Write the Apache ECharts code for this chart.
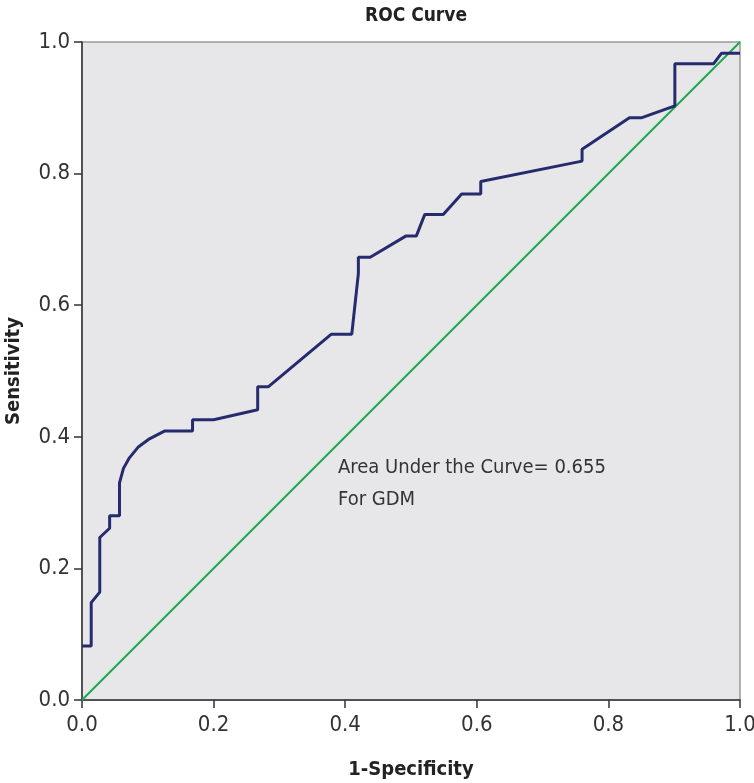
<!DOCTYPE html>
<html>
<head>
<meta charset="utf-8">
<script src="https://cdn.jsdelivr.net/npm/echarts@6/dist/echarts.min.js"></script>
<style>
  html, body { margin: 0; padding: 0; background: #fff; }
  #chart { width: 754px; height: 783px; }
</style>
</head>
<body>
<div id="chart"></div>
<script>
// ROC curve points: [1-specificity, sensitivity]
const rocPoints = [
  [0, 0.082], [0.014, 0.082], [0.014, 0.148], [0.027, 0.164], [0.027, 0.247],
  [0.042, 0.261], [0.042, 0.280], [0.057, 0.280], [0.057, 0.330], [0.063, 0.352],
  [0.072, 0.368], [0.086, 0.385], [0.101, 0.396], [0.126, 0.409], [0.168, 0.409],
  [0.168, 0.426], [0.200, 0.426], [0.267, 0.441], [0.267, 0.476], [0.283, 0.476],
  [0.379, 0.556], [0.410, 0.556], [0.420, 0.648], [0.420, 0.673], [0.438, 0.673],
  [0.492, 0.705], [0.508, 0.705], [0.521, 0.738], [0.549, 0.738], [0.577, 0.769],
  [0.606, 0.769], [0.606, 0.788], [0.760, 0.819], [0.760, 0.837], [0.832, 0.885],
  [0.851, 0.885], [0.901, 0.903], [0.901, 0.967], [0.960, 0.967], [0.972, 0.983],
  [1.0, 0.983]
]
const referenceLine = [[0, 0], [1, 1]]
const titleText = 'ROC Curve'
const xName = '1-Specificity'
const yName = 'Sensitivity'
const noteLines = ['Area Under the Curve= 0.655', 'For GDM']

const chart = echarts.init(document.getElementById('chart'))
const fontFam = 'Liberation Sans Narrow, DejaVu Sans Condensed, sans-serif'
const tickFont = { fontFamily: fontFam, fontSize: 22, color: '#333' }
const nameFont = { fontFamily: fontFam, fontSize: 20, fontWeight: 'bold', color: '#222' }

chart.setOption({
  animation: false,
  title: {
    text: titleText,
    left: 411, top: 2, textAlign: 'center',
    textStyle: { fontFamily: fontFam, fontSize: 19, fontWeight: 'bold', color: '#222' }
  },
  grid: {
    left: 82, right: 14, top: 42, bottom: 83,
    containLabel: false, outerBoundsMode: 'none',
    show: true, backgroundColor: '#e7e7ea', borderColor: '#9a9a9a', borderWidth: 1.5
  },
  xAxis: {
    type: 'value', min: 0, max: 1, interval: 0.2,
    name: xName, nameLocation: 'middle', nameGap: 60, nameTextStyle: nameFont,
    axisLine: { show: true, onZero: false, lineStyle: { color: '#333', width: 1.5 } },
    axisTick: { show: true, length: 8, lineStyle: { color: '#333', width: 1.5 } },
    splitLine: { show: false },
    axisLabel: Object.assign({ margin: 14, formatter: v => v.toFixed(1) }, tickFont)
  },
  yAxis: {
    type: 'value', min: 0, max: 1, interval: 0.2,
    name: yName, nameLocation: 'middle', nameGap: 58, nameRotate: 90, nameTextStyle: nameFont,
    axisLine: { show: true, onZero: false, lineStyle: { color: '#333', width: 1.5 } },
    axisTick: { show: true, length: 8, lineStyle: { color: '#333', width: 1.5 } },
    splitLine: { show: false },
    axisLabel: Object.assign({ margin: 12, formatter: v => v.toFixed(1) }, tickFont)
  },
  series: [
    {
      type: 'line', data: referenceLine, symbol: 'none', silent: true,
      lineStyle: { color: '#1aa84c', width: 2 }
    },
    {
      type: 'line', data: rocPoints, symbol: 'none', silent: true,
      lineStyle: { color: '#262b6e', width: 3 }
    }
  ],
  graphic: [
    {
      type: 'text', left: 338, top: 452,
      style: {
        text: noteLines.join('\n'), lineHeight: 32,
        font: '20px "Liberation Sans Narrow", "DejaVu Sans Condensed", sans-serif', fill: '#333'
      }
    }
  ]
})
</script>
</body>
</html>
